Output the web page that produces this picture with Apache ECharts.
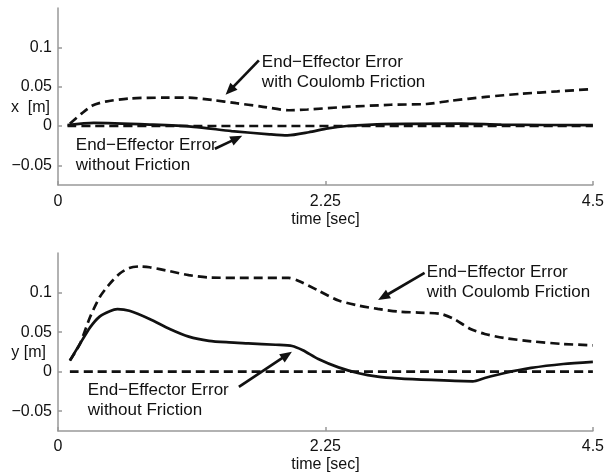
<!DOCTYPE html>
<html>
<head>
<meta charset="utf-8">
<script src="https://cdn.jsdelivr.net/npm/echarts@6/dist/echarts.min.js"></script>
<style>html,body{margin:0;padding:0;background:#fff}#c{width:607px;height:476px}</style>
</head>
<body>
<div id="c"></div>
<script>
// ---- data (time in sec, error in m) ----
var xTicks = [0, 2.25, 4.5];
var yTicks = [-0.05, 0, 0.05, 0.1];

// top plot: x error
var xCoulombT = [0.1, 0.2, 0.29, 0.4, 0.6, 0.9, 1.1, 1.3, 1.5, 1.7, 1.95, 2.1, 2.4, 2.8, 3.1, 3.3, 3.6, 3.9, 4.2, 4.5];
var xCoulombV = [0.003, 0.016, 0.026, 0.031, 0.035, 0.036, 0.036, 0.033, 0.029, 0.025, 0.020, 0.021, 0.024, 0.027, 0.028, 0.032, 0.037, 0.041, 0.044, 0.047];
var xNoFricT = [0.08, 0.3, 0.8, 1.14, 1.46, 1.78, 1.93, 2.11, 2.27, 2.43, 2.76, 3.4, 3.73, 4.5];
var xNoFricV = [0.001, 0.004, 0.0017, -0.001, -0.0064, -0.0106, -0.012, -0.008, -0.003, 0.0, 0.0025, 0.003, 0.0017, 0.001];
var xZeroT = [0.08, 4.5];
var xZeroV = [0, 0];

// bottom plot: y error
var yCoulombT = [0.1, 0.184, 0.27, 0.35, 0.435, 0.52, 0.6, 0.686, 0.77, 0.94, 1.1, 1.27, 1.6, 1.94, 2.02, 2.19, 2.36, 2.53, 2.69, 2.86, 3.03, 3.22, 3.33, 3.47, 3.59, 3.75, 3.98, 4.25, 4.5];
var yCoulombV = [0.014, 0.035, 0.069, 0.094, 0.111, 0.124, 0.131, 0.133, 0.132, 0.127, 0.122, 0.119, 0.1186, 0.1186, 0.115, 0.1025, 0.09, 0.0835, 0.0794, 0.076, 0.0747, 0.073, 0.0667, 0.054, 0.0477, 0.0427, 0.0384, 0.035, 0.0333];
var yNoFricT = [0.1, 0.184, 0.27, 0.35, 0.435, 0.5, 0.6, 0.77, 0.94, 1.1, 1.27, 1.44, 1.6, 1.83, 1.97, 2.06, 2.19, 2.36, 2.53, 2.69, 2.86, 3.14, 3.49, 3.59, 3.75, 3.98, 4.25, 4.5];
var yNoFricV = [0.014, 0.035, 0.056, 0.0696, 0.0764, 0.079, 0.077, 0.0667, 0.054, 0.0443, 0.039, 0.037, 0.0358, 0.034, 0.0325, 0.027, 0.016, 0.0054, -0.002, -0.0063, -0.0085, -0.0105, -0.0122, -0.008, -0.002, 0.0047, 0.0097, 0.0123];
var yZeroT = [0.1, 4.5];
var yZeroV = [0, 0];

var noteTop1 = ['End\u2212Effector Error', 'with Coulomb Friction'];
var noteTop2 = ['End\u2212Effector Error', 'without Friction'];

function pairs(t, v) { return t.map(function (x, i) { return [x, v[i]]; }); }

var FONT = '"Liberation Sans", Arial, Helvetica, sans-serif';
var TXT = '#111';
var AX = '#999';
var DASH = [9, 5];

function xAxisOpt(idx, margin, gap) {
  return {
    type: 'value', gridIndex: idx, min: 0, max: 4.5, interval: 2.25,
    name: 'time [sec]', nameLocation: 'middle', nameGap: gap,
    nameTextStyle: { color: TXT, fontSize: 16, fontFamily: FONT },
    axisLine: { show: true, onZero: false, lineStyle: { color: AX, width: 1.5 } },
    axisTick: { show: true, inside: true, length: 4, lineStyle: { color: AX, width: 1.5 } },
    axisLabel: { color: TXT, fontSize: 16, fontFamily: FONT, margin: margin,
      formatter: function (v) { return String(v); } },
    splitLine: { show: false }
  };
}
function yAxisOpt(idx) {
  return {
    type: 'value', gridIndex: idx, min: -0.075, max: 0.15,
    axisLine: { show: true, lineStyle: { color: AX, width: 1.5 } },
    axisTick: { show: true, inside: true, length: 4, customValues: yTicks, lineStyle: { color: AX, width: 1.5 } },
    axisLabel: { color: TXT, fontSize: 16, fontFamily: FONT, margin: 6, customValues: yTicks,
      formatter: function (v) { return String(Math.round(v * 1000) / 1000).replace('-', '\u2212'); } },
    splitLine: { show: false }
  };
}
function line(xi, data, dashed) {
  return {
    type: 'line', xAxisIndex: xi, yAxisIndex: xi, data: data, symbol: 'none', smooth: 0.25,
    lineStyle: { color: '#111', width: 2.7, type: dashed ? DASH : 'solid' }, silent: true, animation: false
  };
}

var chart = echarts.init(document.getElementById('c'), null, { renderer: 'canvas' });
chart.setOption({
  animation: false,
  grid: [
    { left: 58, right: 11, top: 8, height: 177 },
    { left: 58, right: 11, top: 253, height: 178 }
  ],
  xAxis: [xAxisOpt(0, 9, 27), xAxisOpt(1, 8, 26)],
  yAxis: [yAxisOpt(0), yAxisOpt(1)],
  series: [
    line(0, pairs(xZeroT, xZeroV), true),
    line(0, pairs(xCoulombT, xCoulombV), true),
    line(0, pairs(xNoFricT, xNoFricV), false),
    line(1, pairs(yZeroT, yZeroV), true),
    line(1, pairs(yCoulombT, yCoulombV), true),
    line(1, pairs(yNoFricT, yNoFricV), false)
  ]
});

// annotations anchored in data coordinates
var notes = [
  { g: 0, text: noteTop1, at: [1.715, 0.0685], tail: [1.69, 0.0834], head: [1.41, 0.0396] },
  { g: 0, text: noteTop2, at: [0.15, -0.0373], tail: [1.32, -0.029], head: [1.55, -0.0125] },
  { g: 1, text: noteTop1, at: [3.103, 0.1134], tail: [3.084, 0.1248], head: [2.693, 0.0906] },
  { g: 1, text: noteTop2, at: [0.251, -0.0358], tail: [1.522, -0.0193], head: [1.968, 0.0253] }
];
var els = [];
notes.forEach(function (n) {
  var f = { xAxisIndex: n.g, yAxisIndex: n.g };
  var p = chart.convertToPixel(f, n.at);
  var a = chart.convertToPixel(f, n.tail);
  var b = chart.convertToPixel(f, n.head);
  els.push({ type: 'text', x: p[0], y: p[1], silent: true,
    style: { text: n.text.join('\n'), fill: TXT, font: '17px ' + FONT, lineHeight: 20,
      align: 'left', verticalAlign: 'middle' } });
  var dx = b[0] - a[0], dy = b[1] - a[1], L = Math.sqrt(dx * dx + dy * dy);
  var ux = dx / L, uy = dy / L, hl = 12, hw = 5;
  var bx = b[0] - ux * hl, by = b[1] - uy * hl;
  els.push({ type: 'line', silent: true, shape: { x1: a[0], y1: a[1], x2: bx + ux * 2, y2: by + uy * 2 },
    style: { stroke: '#111', lineWidth: 2.7 } });
  els.push({ type: 'polygon', silent: true,
    shape: { points: [[b[0], b[1]], [bx - uy * hw, by + ux * hw], [bx + uy * hw, by - ux * hw]] },
    style: { fill: '#111' } });
});
// y-axis titles
var yt0 = chart.convertToPixel({ yAxisIndex: 0 }, 0.0235);
var yt1 = chart.convertToPixel({ yAxisIndex: 1 }, 0.0245);
els.push({ type: 'text', x: 50, y: yt0, silent: true,
  style: { text: 'x  [m]', fill: TXT, font: '16px ' + FONT, align: 'right', verticalAlign: 'middle' } });
els.push({ type: 'text', x: 46, y: yt1, silent: true,
  style: { text: 'y [m]', fill: TXT, font: '16px ' + FONT, align: 'right', verticalAlign: 'middle' } });
chart.setOption({ graphic: { elements: els } });
</script>
</body>
</html>
